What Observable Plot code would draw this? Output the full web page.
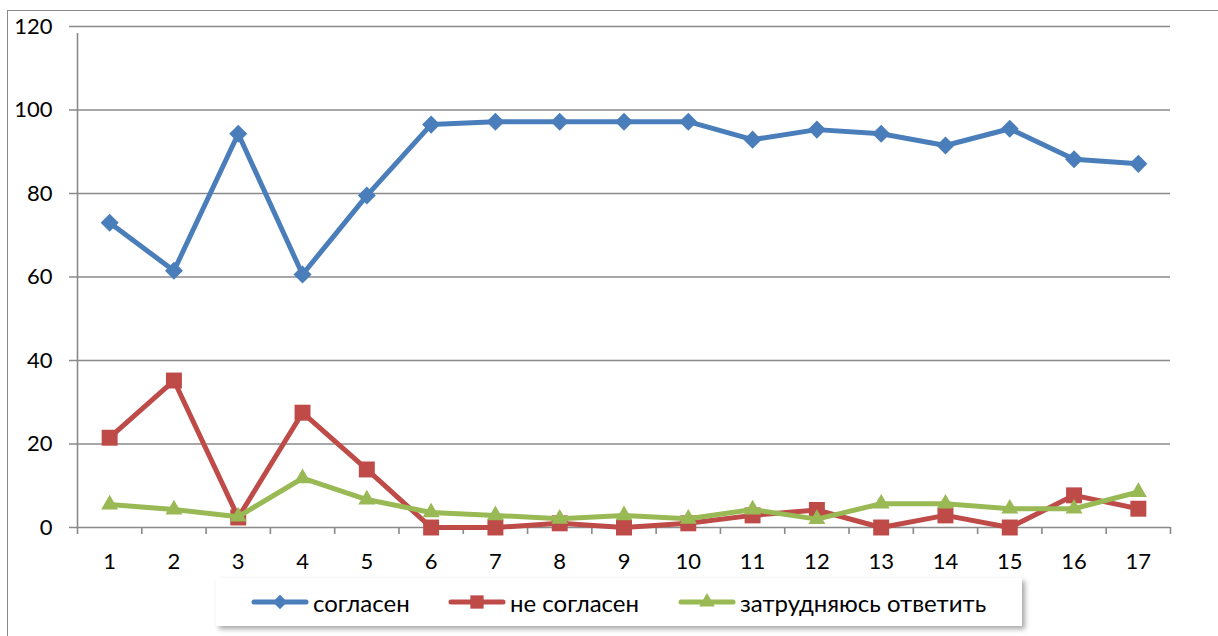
<!DOCTYPE html>
<html>
<head>
<meta charset="utf-8">
<script src="https://cdn.jsdelivr.net/npm/d3@7"></script>
<script src="https://cdn.jsdelivr.net/npm/@observablehq/plot@0.6"></script>
<style>
  html, body { margin: 0; padding: 0; background: #fff; }
  body { width: 1218px; height: 636px; overflow: hidden; position: relative; font-family: Lato, "Open Sans", sans-serif; }
  #frame { position: absolute; left: 7px; top: 10px; width: 1300px; height: 700px; border-left: 1.5px solid #8a8a8a; border-top: 1.5px solid #8a8a8a; }
  #chart { position: absolute; left: 0; top: 0; }
  #legend { position: absolute; left: 216px; top: 578px; width: 806px; height: 48px; background: #fff;
            box-shadow: 3px 3px 5px rgba(0,0,0,0.35); }
  .item { position: absolute; top: 0; height: 48px; display: flex; align-items: center; font-size: 24px; color: #000; white-space: nowrap; }
  .item svg { display: block; margin-right: 4px; }
</style>
</head>
<body>
<div id="frame"></div>
<div id="chart"></div>
<div id="legend"></div>
<script>
const categories = [1, 2, 3, 4, 5, 6, 7, 8, 9, 10, 11, 12, 13, 14, 15, 16, 17];
const seriesNames = ["согласен", "не согласен", "затрудняюсь ответить"];
const agree    = [73, 61.5, 94.3, 60.6, 79.5, 96.5, 97.2, 97.2, 97.2, 97.2, 92.9, 95.3, 94.3, 91.5, 95.5, 88.2, 87.1];
const disagree = [21.5, 35.2, 2.4, 27.5, 13.9, 0, 0, 1, 0, 1, 2.9, 4.2, 0, 2.9, 0, 7.7, 4.5];
const unsure   = [5.5, 4.3, 2.6, 11.8, 6.7, 3.6, 2.9, 2.1, 2.9, 2.1, 4.3, 2, 5.7, 5.7, 4.5, 4.5, 8.5];
const yTicks = [0, 20, 40, 60, 80, 100, 120];

const colors = ["#4a7ebb", "#be4b48", "#98b954"];
const symbols = ["square", "square", "triangle"];
const rotates = [45, 0, 0];
const radii = [7.2, 9, 6.3];

const allValues = [agree, disagree, unsure];
const table = [];
allValues.forEach((vals, s) => categories.forEach((c, i) => table.push({ series: seriesNames[s], s, x: c, y: vals[i] })));
const boundaries = [categories[0] - 0.5, ...categories.map(c => c + 0.5)];

const marks = [
  Plot.ruleY(yTicks, { y: d => d, stroke: "#8a8a8a", strokeWidth: 1.6, insetLeft: -8 }),
  Plot.ruleX([boundaries[0]], { x: d => d, y1: 0, y2: 120, stroke: "#8a8a8a", strokeWidth: 1.6, insetBottom: -7 }),
  Plot.axisX(boundaries, { tickSize: 7, tickFormat: () => "", stroke: "#8a8a8a", strokeWidth: 1.6, tickPadding: 0, label: null }),
  Plot.axisX(categories, { tickSize: 0, tickPadding: 26, fontSize: 22, fill: "#000", tickFormat: d => String(d), label: null }),
  Plot.axisY(yTicks, { tickSize: 0, tickPadding: 25, fontSize: 22, fill: "#000", tickFormat: d => String(d), label: null })
];
seriesNames.forEach((name, s) => {
  const data = table.filter(d => d.s === s);
  marks.push(Plot.line(data, { x: "x", y: "y", stroke: colors[s], strokeWidth: 5, strokeLinejoin: "round", strokeLinecap: "round" }));
  marks.push(Plot.dot(data, { x: "x", y: "y", symbol: symbols[s], r: radii[s], fill: colors[s], stroke: "none", rotate: rotates[s] }));
});

const plot = Plot.plot({
  width: 1218,
  height: 575,
  marginLeft: 77,
  marginRight: 48,
  marginTop: 26,
  marginBottom: 48,
  style: { fontFamily: "Lato, 'Open Sans', sans-serif", background: "transparent", overflow: "visible" },
  x: { type: "linear", domain: [boundaries[0], boundaries[boundaries.length - 1]], axis: null },
  y: { domain: [0, 120], axis: null },
  marks
});
document.getElementById("chart").appendChild(plot);

// Legend
const legend = document.getElementById("legend");
const itemLefts = [35, 232, 462];
seriesNames.forEach((name, s) => {
  const item = document.createElement("div");
  item.className = "item";
  item.style.left = itemLefts[s] + "px";
  const svg = d3.create("svg").attr("width", 58).attr("height", 24);
  svg.append("line").attr("x1", 3).attr("x2", 55).attr("y1", 12).attr("y2", 12)
    .attr("stroke", colors[s]).attr("stroke-width", 5).attr("stroke-linecap", "round");
  const sym = s === 2 ? d3.symbolTriangle : d3.symbolSquare;
  const size = Math.PI * Math.pow(s === 0 ? 5.8 : s === 1 ? 7.5 : 5.8, 2);
  svg.append("path").attr("d", d3.symbol(sym, size)())
    .attr("transform", `translate(29,12) rotate(${rotates[s]})`).attr("fill", colors[s]);
  item.appendChild(svg.node());
  const span = document.createElement("span");
  span.textContent = name;
  item.appendChild(span);
  legend.appendChild(item);
});
</script>
</body>
</html>
